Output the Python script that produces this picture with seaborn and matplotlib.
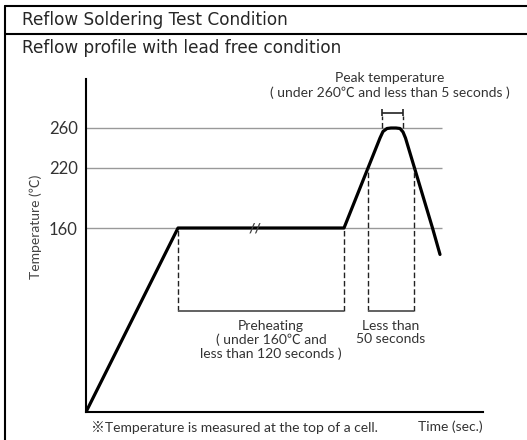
import numpy as np
import matplotlib.pyplot as plt
import seaborn as sns

sns.set_style('white')
plt.rcParams['font.family'] = ['Lato', 'Noto Sans CJK JP']

# reflow profile, schematic time axis (no units shown)
time = [0, 92, 258, 294, 297, 301, 305, 310, 314, 317, 319.5, 346.5, 354]
temp = [0, 160, 160, 250, 256.5, 259.5, 260, 260, 259.5, 256, 250, 160, 137]

temp_ticks = [160, 220, 260]
tick_labels = ['160', '220', '260']

preheat = [92, 258]      # preheating window at 160
above_220 = [282, 328]   # time above 220
peak = [296, 316.5]      # time at peak

# the drawing is not to scale: lower part stretched a bit
def fwd(t):
    t = np.asarray(t, dtype=float)
    return np.where(t < 160, t * 1.15, 184 + (t - 160))

def inv(p):
    p = np.asarray(p, dtype=float)
    return np.where(p < 184, p / 1.15, 160 + (p - 184))

W, H = 527, 440
fig = plt.figure(figsize=(W / 100, H / 100), dpi=100)
ax = fig.add_axes([86 / W, 28 / H, 397 / W, 333 / H])
ax.set_yscale('function', functions=(fwd, inv))

sns.lineplot(x=time, y=temp, sort=False, color='black', lw=2.3, ax=ax)
ax.lines[0].set_solid_joinstyle('round')

ax.set_xlim(0, 397)
ax.set_ylim(0, 309)
ax.hlines(temp_ticks, 0, 356, color='#999999', lw=1, zorder=1)

dash = (0, (4, 2))
low = 88
ax.vlines(preheat, low, 160, color='#222222', lw=1, ls=dash)
ax.hlines(low, *preheat, color='#555555', lw=1.3)
ax.vlines(above_220, low, 220, color='#222222', lw=1, ls=dash)
ax.hlines(low, *above_220, color='#555555', lw=1.3)
ax.vlines(peak, 260, 271.5, color='#222222', lw=1, ls=dash)
ax.vlines(peak, 271.5, 278.5, color='#222222', lw=1.2)
ax.hlines(275, *peak, color='#222222', lw=1.2)

# break mark on the flat part
ax.text(169, 160, '//', ha='center', va='center', fontsize=10,
        fontweight='bold', color='#444444')

txt = dict(ha='center', va='center', color='#333333', fontsize=10)
ax.text(304, 310, 'Peak temperature', **txt)
ax.text(304, 295, '( under 260\u2103 and less than 5 seconds )', **txt)
ax.text(185, 62.6, 'Preheating\n( under 160\u2103 and\nless than 120 seconds )',
        linespacing=1.1, **txt)
ax.text(305, 69, 'Less than\n50 seconds', linespacing=1.1, **txt)

ax.set_xticks([])
ax.set_yticks(temp_ticks, tick_labels)
ax.tick_params(axis='y', length=0, pad=6, labelsize=12, labelcolor='#333333')
ax.set_ylabel('Temperature (\u2103)', fontsize=10, color='#444444')
ax.yaxis.set_label_coords(-0.111, 0.557)
for s in ['top', 'right']:
    ax.spines[s].set_visible(False)
for s in ['left', 'bottom']:
    ax.spines[s].set_linewidth(1.5)
    ax.spines[s].set_color('black')

fig.text(91 / W, 1 - 427 / H, '\u203bTemperature is measured at the top of a cell.',
         va='center', fontsize=10, color='#333333')
fig.text(483 / W, 1 - 427 / H, 'Time (sec.)', ha='right', va='center',
         fontsize=10, color='#333333')

# table frame around the chart
fig.add_artist(plt.Line2D([5 / W, 1], [1 - 6 / H] * 2, color='black', lw=1.5))
fig.add_artist(plt.Line2D([5 / W, 1], [1 - 34 / H] * 2, color='black', lw=1.5))
fig.add_artist(plt.Line2D([5 / W] * 2, [0, 1 - 6 / H], color='black', lw=1.5))
fig.text(22 / W, 1 - 20 / H, 'Reflow Soldering Test Condition', va='center',
         family='DejaVu Sans', fontsize=12.2)
fig.text(22 / W, 1 - 48 / H, 'Reflow profile with lead free condition', va='center',
         family='DejaVu Sans', fontsize=12.2)

fig.savefig('out.png', dpi=100)
